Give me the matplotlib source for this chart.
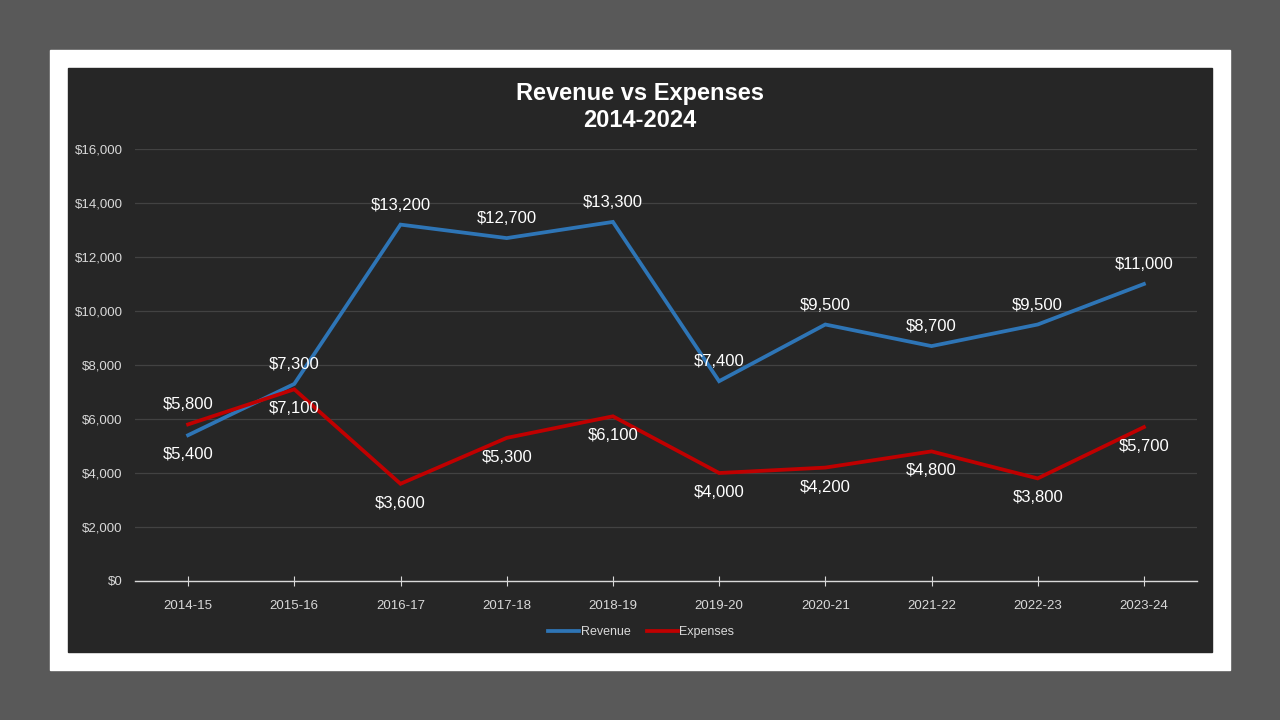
import matplotlib.pyplot as plt
from matplotlib.patches import Rectangle
from matplotlib.ticker import FuncFormatter

plt.rcParams["font.family"] = ["Liberation Sans", "DejaVu Sans"]

years = ["2014-15", "2015-16", "2016-17", "2017-18", "2018-19",
         "2019-20", "2020-21", "2021-22", "2022-23", "2023-24"]
revenue = [5400, 7300, 13200, 12700, 13300, 7400, 9500, 8700, 9500, 11000]
expenses = [5800, 7100, 3600, 5300, 6100, 4000, 4200, 4800, 3800, 5700]
# label above (True) or below (False) each point
rev_above = [False, True, True, True, True, True, True, True, True, True]
exp_above = [True, False, False, False, False, False, False, False, False, False]

BLUE = "#2e75b6"
RED = "#c00000"
PANEL = "#262626"

fig = plt.figure(figsize=(12.8, 7.2), dpi=100)
fig.patch.set_facecolor("#595959")
W, H = 1280, 720
fig.patches.append(Rectangle((50 / W, 1 - 670 / H), 1180 / W, 620 / H,
                             transform=fig.transFigure, color="white", zorder=-10))
fig.patches.append(Rectangle((68 / W, 1 - 652 / H), 1144 / W, 584 / H,
                             transform=fig.transFigure, color=PANEL, zorder=-9))

ax = fig.add_axes([135 / W, 1 - 581 / H, 1062 / W, 432 / H])
ax.set_zorder(1)
ax.set_facecolor(PANEL)

x = range(len(years))
ax.plot(x, revenue, color=BLUE, lw=2.7, label="Revenue", solid_joinstyle="miter", zorder=3)
ax.plot(x, expenses, color=RED, lw=2.7, label="Expenses", solid_joinstyle="miter", zorder=3)

for vals, above in [(revenue, rev_above), (expenses, exp_above)]:
    for i, v in enumerate(vals):
        up = above[i]
        ax.annotate(f"${v:,.0f}", (i, v), xytext=(0, 14 if up else -14),
                    textcoords="offset points", ha="center", va="center",
                    color="white", fontsize=12, zorder=4)

ax.set_xlim(-0.5, 9.5)
ax.set_ylim(0, 16000)
ax.set_yticks(range(0, 16001, 2000))
ax.yaxis.set_major_formatter(FuncFormatter(lambda v, p: f"${v:,.0f}"))
ax.set_xticks(list(x))
ax.set_xticklabels(years)
ax.grid(axis="y", color="#424242", lw=0.9)
ax.set_axisbelow(True)
for s in ["top", "right", "left"]:
    ax.spines[s].set_visible(False)
ax.spines["bottom"].set_color("#d9d9d9")
ax.spines["bottom"].set_linewidth(1.0)
ax.tick_params(axis="y", length=0, colors="#d9d9d9", labelsize=9.5, pad=9)
ax.tick_params(axis="x", direction="inout", length=7, color="#d9d9d9",
               labelcolor="#d9d9d9", labelsize=9.5, pad=10)

fig.text(640 / W, 1 - 107 / H, "Revenue vs Expenses\n2014-2024", ha="center", va="center",
         color="white", fontsize=17, fontweight="bold", linespacing=1.2)

leg = fig.legend(loc="center", bbox_to_anchor=(641 / W, 1 - 632 / H), ncol=2,
                 frameon=False, fontsize=9, handlelength=2.5, handletextpad=0.1,
                 columnspacing=1.3)
for t in leg.get_texts():
    t.set_color("#d9d9d9")

fig.savefig("out.png", dpi=100, facecolor=fig.get_facecolor())
